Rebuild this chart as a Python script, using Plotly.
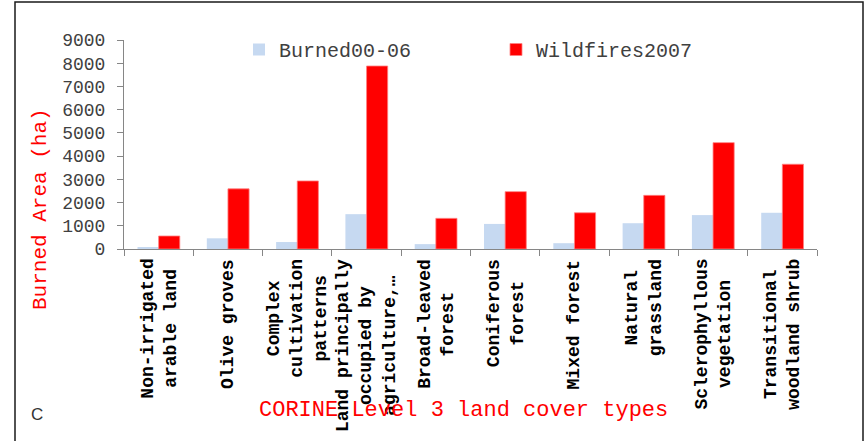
import plotly.graph_objects as go

categories = [
    "Non-irrigated<br>arable land",
    "Olive groves",
    "Complex<br>cultivation<br>patterns",
    "Land principally<br>occupied by<br>agriculture,…",
    "Broad-leaved<br>forest",
    "Coniferous<br>forest",
    "Mixed forest",
    "Natural<br>grassland",
    "Sclerophyllous<br>vegetation",
    "Transitional<br>woodland shrub",
]
burned_00_06 = [60, 460, 300, 1500, 210, 1080, 250, 1110, 1460, 1560]
wildfires_2007 = [560, 2590, 2930, 7880, 1320, 2470, 1560, 2310, 4580, 3650]
y_ticks = [0, 1000, 2000, 3000, 4000, 5000, 6000, 7000, 8000, 9000]

W, H = 867, 441
L, R, T, B = 124, 50, 40, 192
pw, ph = W - L - R, H - T - B


def px_x(p):
    return (p - L) / pw


def px_y(p):
    return (H - B - p) / ph


MONO = "Liberation Mono, Courier New, monospace"

fig = go.Figure()
fig.add_trace(go.Bar(
    x=categories, y=burned_00_06, name="Burned00-06",
    marker=dict(color="#C6D9F1", line=dict(width=0)),
))
fig.add_trace(go.Bar(
    x=categories, y=wildfires_2007, name="Wildfires2007",
    marker=dict(color="#FF0000", line=dict(width=0.8, color="#FF8080")),
))

annotations = []
for c in categories:
    annotations.append(dict(
        x=c, xref="x", y=0, yref="paper", yshift=-8,
        text=c, textangle=-90, showarrow=False,
        xanchor="center", yanchor="top", align="center",
        font=dict(family=MONO, size=18, color="#000000", weight="bold"),
    ))

annotations.append(dict(
    x=px_x(463.5), xref="paper", y=px_y(410), yref="paper",
    text="CORINE Level 3 land cover types", showarrow=False,
    xanchor="center", yanchor="middle",
    font=dict(family=MONO, size=22, color="#FF0000"),
))
annotations.append(dict(
    x=px_x(40), xref="paper", y=px_y(209), yref="paper",
    text="Burned Area (ha)", textangle=-90, showarrow=False,
    xanchor="center", yanchor="middle",
    font=dict(family=MONO, size=21, color="#FF0000"),
))
annotations.append(dict(
    x=px_x(37), xref="paper", y=px_y(414), yref="paper",
    text="C", showarrow=False, xanchor="center", yanchor="middle",
    font=dict(family="Liberation Sans, Arial, sans-serif", size=17, color="#333333"),
))

fig.update_layout(
    width=W, height=H,
    margin=dict(l=L, r=R, t=T, b=B, autoexpand=False),
    paper_bgcolor="white", plot_bgcolor="white",
    barmode="group", bargap=0.39, bargroupgap=0,
    showlegend=True,
    legend=dict(
        orientation="h", x=px_x(239), y=px_y(30), xanchor="left", yanchor="top",
        font=dict(family=MONO, size=20, color="#404040"),
        entrywidth=212, entrywidthmode="pixels",
        bgcolor="rgba(0,0,0,0)", itemclick=False, itemdoubleclick=False,
    ),
    xaxis=dict(
        type="category", showticklabels=False, tickson="boundaries",
        ticks="outside", ticklen=6, tickcolor="#868686",
        showline=True, linecolor="#868686", linewidth=1,
        showgrid=False, zeroline=False,
    ),
    yaxis=dict(
        range=[0, 9000], tickvals=y_ticks, ticktext=[str(v) for v in y_ticks],
        ticks="outside", ticklen=6, tickcolor="#868686",
        showline=True, linecolor="#868686", linewidth=1,
        showgrid=False, zeroline=False, ticklabelstandoff=8,
        tickfont=dict(family=MONO, size=18, color="#404040"),
    ),
    annotations=annotations,
    shapes=[dict(
        type="rect", xref="paper", yref="paper",
        x0=px_x(15), x1=px_x(863), y0=px_y(446), y1=px_y(2),
        line=dict(color="#1a1a1a", width=1.5), fillcolor="rgba(0,0,0,0)",
        layer="below",
    )],
)

fig.write_html(
    "out.html",
    config={"displayModeBar": False},
    post_script="document.body.style.margin='0';document.body.style.overflow='hidden';",
)
